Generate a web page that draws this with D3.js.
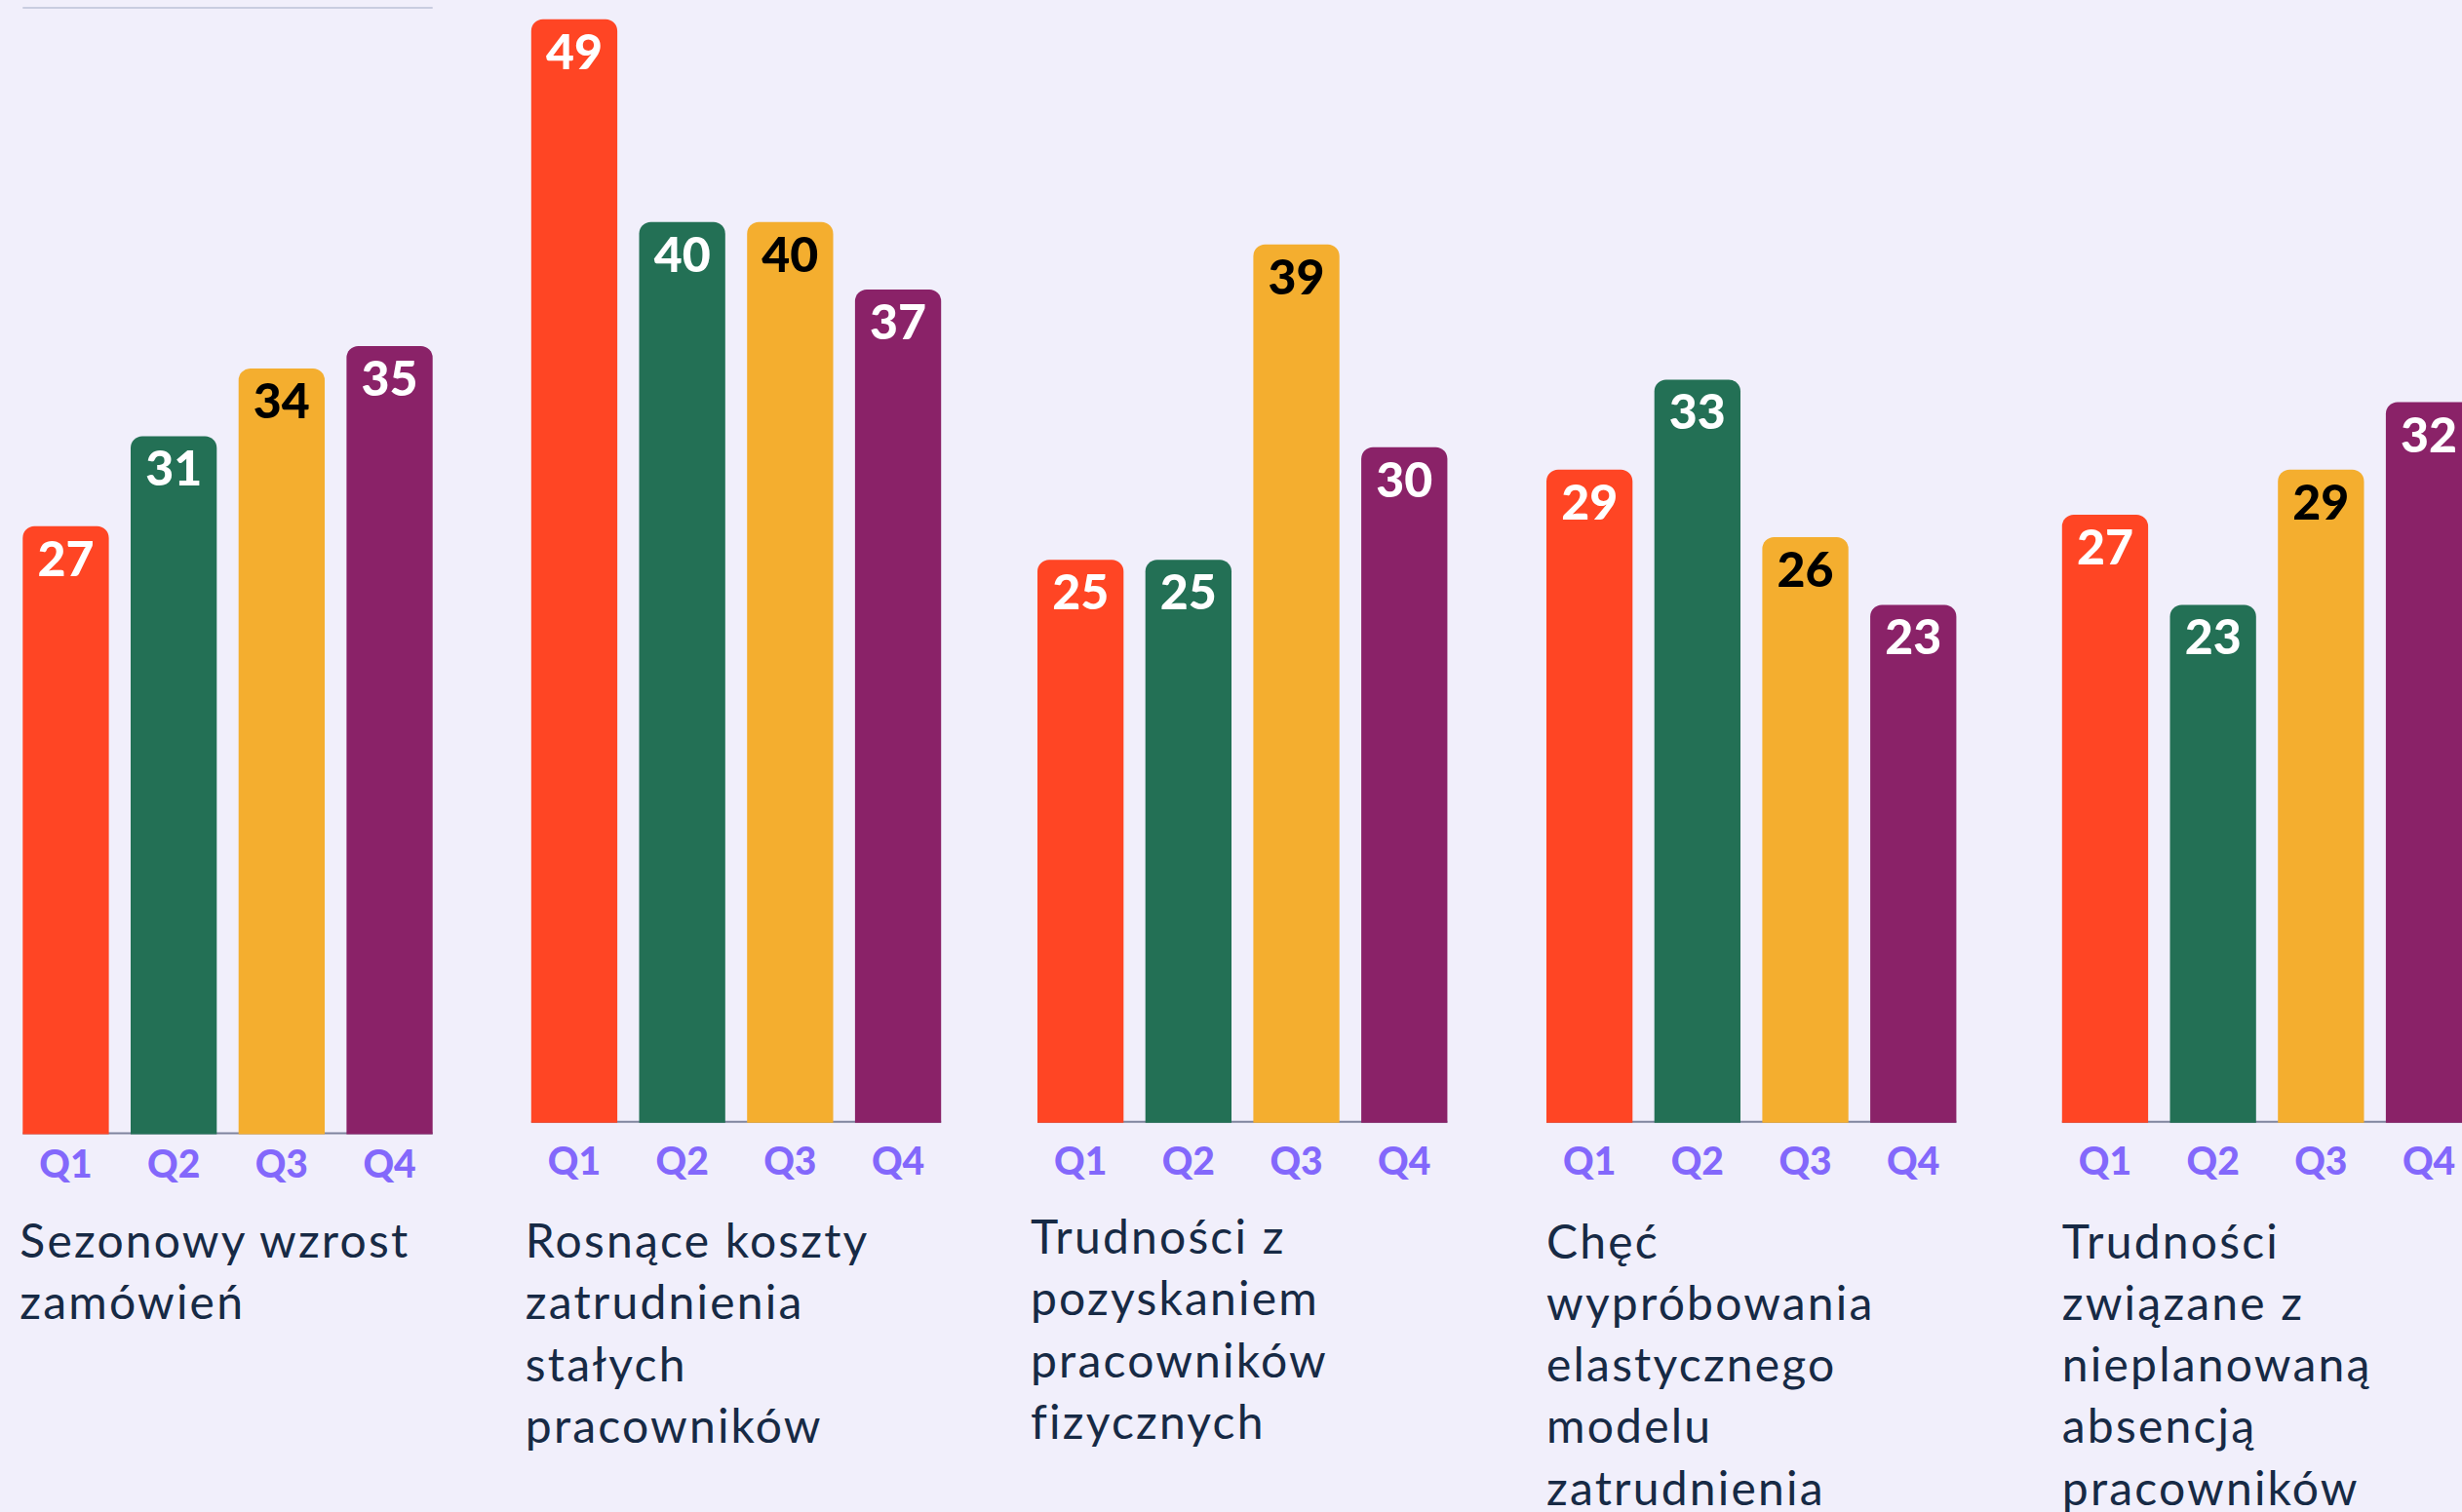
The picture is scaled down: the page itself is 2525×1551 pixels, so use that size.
<!DOCTYPE html>
<html>
<head>
<meta charset="utf-8">
<script src="https://cdnjs.cloudflare.com/ajax/libs/d3/7.8.5/d3.min.js"></script>
<style>
  body { margin: 0; background: #f1effb; }
  svg { display: block; }
</style>
</head>
<body>
<div id="chart"></div>
<script>
// data
var quarters = ["Q1", "Q2", "Q3", "Q4"];
var categories = [
  ["Sezonowy wzrost", "zamówień"],
  ["Rosnące koszty", "zatrudnienia", "stałych", "pracowników"],
  ["Trudności z", "pozyskaniem", "pracowników", "fizycznych"],
  ["Chęć", "wypróbowania", "elastycznego", "modelu", "zatrudnienia"],
  ["Trudności", "związane z", "nieplanowaną", "absencją", "pracowników"]
];
var q1Values = [27, 49, 25, 29, 27];
var q2Values = [31, 40, 25, 33, 23];
var q3Values = [34, 40, 39, 26, 29];
var q4Values = [35, 37, 30, 23, 32];

var colors = ["#ff4524", "#237055", "#f4ae2f", "#8a2268"];
var labelColors = ["#ffffff", "#ffffff", "#000000", "#ffffff"];

var svgWidth = 2525;
var svgHeight = 1551;

// layout of each panel (left edge of first bar, baseline, title tweaks)
var panelX = [23.3, 544.8, 1064, 1586, 2114.8];
var baseY = [1163.5, 1151.7, 1151.7, 1151.7, 1151.7];
var qLabelY = [1207.7, 1205, 1205, 1205, 1205];
var titleY = [1290, 1290, 1286, 1290.5, 1290.5];
var titleDx = [-3, -6, -7, 0, 0];
var lineHeight = 63.3;

var svg = d3.select("#chart")
  .append("svg")
  .attr("width", svgWidth)
  .attr("height", svgHeight);

svg.append("rect")
  .attr("width", svgWidth)
  .attr("height", svgHeight)
  .attr("fill", "#f1effb");

var xScale = d3.scaleBand()
  .domain(quarters)
  .range([0, 420.4])
  .paddingInner(0.2023);

var hScale = d3.scaleLinear()
  .domain([0, 50])
  .range([0, 50 * 23.1]);

// rounded top corners only
function barPath(x, y, w, h, r) {
  return "M" + x + "," + (y + h) +
    "V" + (y + r) +
    "A" + r + "," + r + " 0 0 1 " + (x + r) + "," + y +
    "H" + (x + w - r) +
    "A" + r + "," + r + " 0 0 1 " + (x + w) + "," + (y + r) +
    "V" + (y + h) + "Z";
}

// thin rule above first panel
svg.append("line")
  .attr("x1", panelX[0])
  .attr("x2", panelX[0] + 420.4)
  .attr("y1", 8)
  .attr("y2", 8)
  .attr("stroke", "#c9cde0")
  .attr("stroke-width", 2);

categories.forEach(function(lines, i) {
  var values = [q1Values[i], q2Values[i], q3Values[i], q4Values[i]];
  var g = svg.append("g")
    .attr("transform", `translate(${panelX[i]}, 0)`);

  // baseline
  g.append("line")
    .attr("x1", 0)
    .attr("x2", xScale.range()[1])
    .attr("y1", baseY[i] - 1)
    .attr("y2", baseY[i] - 1)
    .attr("stroke", "#7f849e")
    .attr("stroke-width", 2);

  g.selectAll("path.bar")
    .data(values)
    .enter()
    .append("path")
    .attr("class", "bar")
    .attr("d", (d, j) => barPath(xScale(quarters[j]), baseY[i] - hScale(d), xScale.bandwidth(), hScale(d), 12))
    .attr("fill", (d, j) => colors[j]);

  g.selectAll("text.val")
    .data(values)
    .enter()
    .append("text")
    .attr("class", "val")
    .attr("x", (d, j) => xScale(quarters[j]) + xScale.bandwidth() / 2)
    .attr("y", d => baseY[i] - hScale(d) + 51)
    .attr("text-anchor", "middle")
    .attr("font-family", "Lato")
    .attr("font-weight", 900)
    .attr("font-size", 50)
    .attr("fill", (d, j) => labelColors[j])
    .text(d => d);

  g.selectAll("text.q")
    .data(quarters)
    .enter()
    .append("text")
    .attr("class", "q")
    .attr("x", d => xScale(d) + xScale.bandwidth() / 2)
    .attr("y", qLabelY[i])
    .attr("text-anchor", "middle")
    .attr("font-family", "Lato")
    .attr("font-weight", 900)
    .attr("font-size", 39)
    .attr("fill", "#8368fb")
    .text(d => d);

  g.selectAll("text.title")
    .data(lines)
    .enter()
    .append("text")
    .attr("class", "title")
    .attr("x", titleDx[i])
    .attr("y", (d, k) => titleY[i] + k * lineHeight)
    .attr("font-family", "Lato")
    .attr("font-size", 48)
    .attr("letter-spacing", 2.2)
    .attr("fill", "#172a45")
    .text(d => d);
});
</script>
</body>
</html>
